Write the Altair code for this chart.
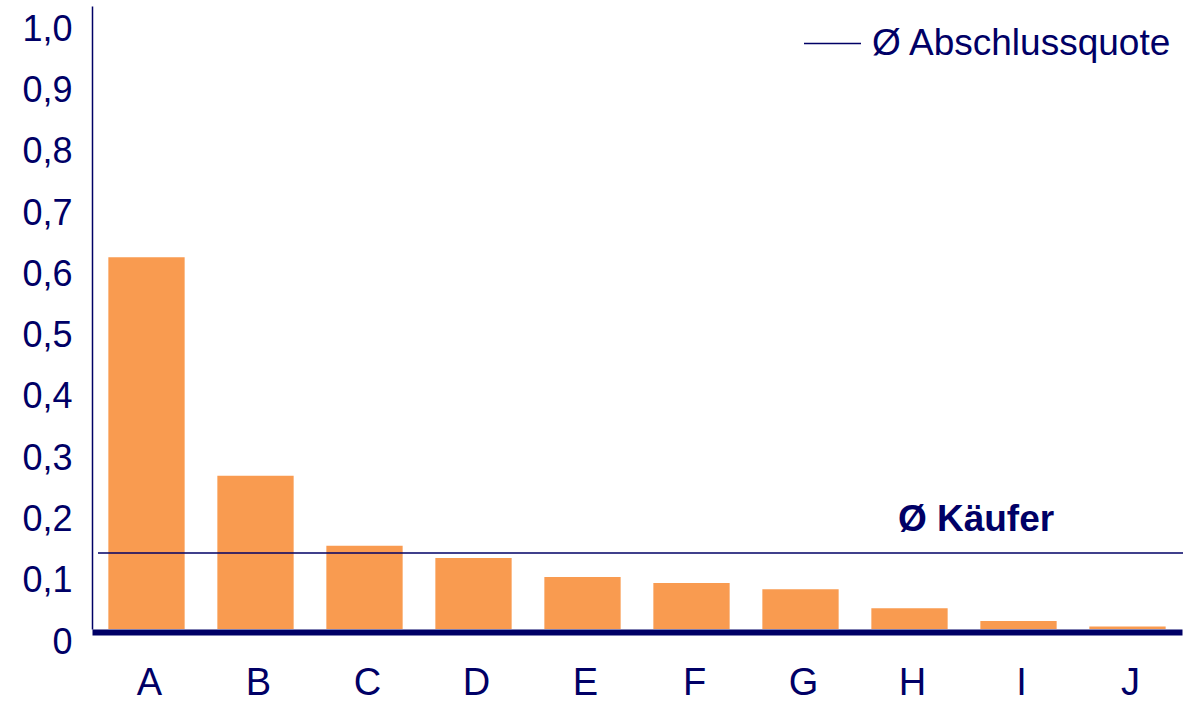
import altair as alt
import pandas as pd

# Abschlussquote per group
categories = ["A", "B", "C", "D", "E", "F", "G", "H", "I", "J"]
quotes = [0.607, 0.250, 0.136, 0.116, 0.085, 0.075, 0.065, 0.034, 0.013, 0.004]

# Average across all buyers
avg_label = "Ø Abschlussquote"
avg_value = 0.124
avg_text = "Ø Käufer"

y_ticks = [0, 0.1, 0.2, 0.3, 0.4, 0.5, 0.6, 0.7, 0.8, 0.9, 1.0]

NAVY = "#000066"
ORANGE = "#F99B50"
FONT = "Liberation Sans"

bars_df = pd.DataFrame({"Gruppe": categories, "Quote": quotes})
avg_df = pd.DataFrame({"Quote": [avg_value], "Label": [avg_label], "Text": [avg_text]})

y_scale = alt.Scale(domain=[0, 1.017], nice=False, zero=True)

bars = alt.Chart(bars_df).mark_bar(color=ORANGE).encode(
    x=alt.X(
        "Gruppe:N",
        sort=categories,
        scale=alt.Scale(paddingInner=0.3, paddingOuter=0.15),
        axis=alt.Axis(
            title=None,
            labelAngle=0,
            labelFontSize=38,
            labelColor=NAVY,
            labelFont=FONT,
            labelPadding=32,
            labelOffset=3,
            ticks=False,
            domainColor=NAVY,
            domainWidth=6,
            offset=3,
        ),
    ),
    y=alt.Y(
        "Quote:Q",
        scale=y_scale,
        axis=alt.Axis(
            title=None,
            values=y_ticks,
            labelExpr="datum.value == 0 ? '0' : replace(format(datum.value, '.1f'), '.', ',')",
            labelFontSize=36,
            labelColor=NAVY,
            labelFont=FONT,
            labelPadding=20,
            labelOffset=13,
            ticks=False,
            grid=False,
            domainColor=NAVY,
            domainWidth=1.5,
        ),
    ),
)

avg_rule = alt.Chart(avg_df).mark_rule(strokeWidth=1.5).encode(
    y=alt.Y("Quote:Q", scale=y_scale),
    x=alt.value(6),
    x2=alt.value(1091),
    color=alt.Color(
        "Label:N",
        scale=alt.Scale(range=[NAVY]),
        legend=alt.Legend(
            title=None,
            orient="none",
            legendX=711,
            legendY=8,
            symbolType="stroke",
            symbolSize=3249,
            symbolStrokeWidth=1.5,
            symbolStrokeColor=NAVY,
            labelFontSize=37,
            labelFont=FONT,
            labelColor=NAVY,
            labelOffset=10,
            labelLimit=500,
            padding=0,
        ),
    ),
)

avg_caption = alt.Chart(avg_df).mark_text(
    font=FONT,
    fontSize=37,
    fontWeight="bold",
    color=NAVY,
    align="center",
    baseline="alphabetic",
    dy=-22,
).encode(
    y=alt.Y("Quote:Q", scale=y_scale),
    x=alt.value(884),
    text="Text:N",
)

chart = (
    alt.layer(bars, avg_rule, avg_caption)
    .properties(
        width=1090,
        height=623,
        autosize=alt.AutoSizeParams(type="none"),
        padding={"left": 92, "top": 6, "right": 19, "bottom": 72},
        background="white",
    )
    .configure_view(stroke=None)
)

chart.save("out.html", embed_options={"renderer": "svg", "actions": False})
